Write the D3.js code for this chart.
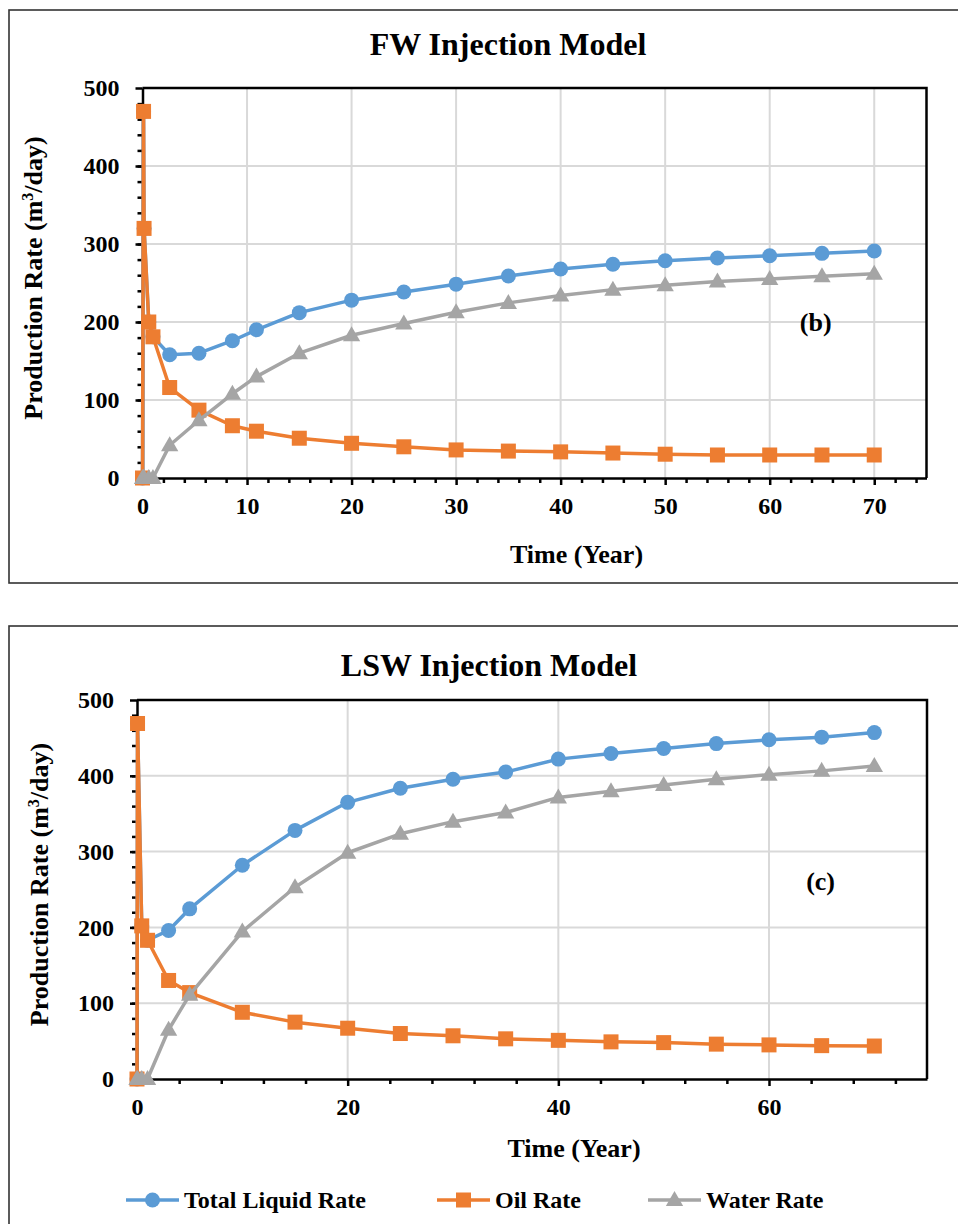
<!DOCTYPE html>
<html>
<head>
<meta charset="utf-8">
<script src="https://cdn.jsdelivr.net/npm/d3@7/dist/d3.min.js"></script>
<style>
  html, body { margin: 0; padding: 0; background: #fff; }
  svg { display: block; }
  text { font-family: "Liberation Serif", "Times New Roman", serif; font-weight: bold; fill: #000; }
</style>
</head>
<body>
<svg id="chart" width="958" height="1224"></svg>
<script>
// ---- FW injection model (panel b) ----
const fwTime  = [0, 0.1, 0.15, 0.6, 1.0, 2.6, 5.4, 8.6, 10.9, 15, 20, 25, 30, 35, 40, 45, 50, 55, 60, 65, 70];
const fwTotal = [0, 470, 320, 200, 181, 158, 160, 176, 190, 212, 228, 238.5, 248.5, 259, 268, 274, 278.5, 282, 285, 288, 291];
const fwOil   = [0, 470, 320, 200, 181, 116, 87, 67, 60, 51, 44.5, 40, 36, 34.5, 33.5, 32, 30.5, 29.5, 29.5, 29.5, 29.5];
const fwWater = [0, 0, 0, 0, 0, 42, 74, 108, 130, 160, 183, 198, 212.5, 224.5, 234, 241.5, 247, 252, 255, 258.5, 262];

// ---- LSW injection model (panel c) ----
const lswTime  = [0, 0.05, 0.45, 1.0, 3, 5, 10, 15, 20, 25, 30, 35, 40, 45, 50, 55, 60, 65, 70];
const lswTotal = [0, 469, 202, 183, 196, 224.5, 282, 328, 365, 383.5, 395.5, 405, 422, 429.5, 436, 442.5, 447.5, 451, 457];
const lswOil   = [0, 469, 202, 183, 130, 114, 88, 75, 67, 60, 57, 53, 51, 49, 48, 46, 45, 44, 43.5];
const lswWater = [0, 0, 0, 0, 65, 111, 194.5, 253, 298.5, 323.5, 339.5, 351.5, 371.5, 379.5, 388, 395.5, 401.5, 406.5, 413];

const yTicks = [0, 100, 200, 300, 400, 500];
const fwXTicks = [0, 10, 20, 30, 40, 50, 60, 70];
const lswXTicks = [0, 20, 40, 60];
const seriesNames = ["Total Liquid Rate", "Oil Rate", "Water Rate"];
const seriesColors = ["#5B9BD5", "#ED7D31", "#A5A5A5"];
const seriesShapes = ["circle", "square", "triangle"];

const svg = d3.select("#chart");

function marker(sel, shape, color) {
  if (shape === "circle") {
    sel.append("circle").attr("r", 7.5).attr("fill", color);
  } else if (shape === "square") {
    sel.append("rect").attr("x", -7.5).attr("y", -7.5).attr("width", 15).attr("height", 15).attr("fill", color);
  } else {
    sel.append("path").attr("d", d3.symbol(d3.symbolTriangle, 130)()).attr("transform", "translate(0,1)").attr("fill", color);
  }
}

function drawPanel(p) {
  const g = svg.append("g");

  // outer frame
  g.append("rect")
    .attr("x", p.box[0]).attr("y", p.box[1]).attr("width", p.box[2]).attr("height", p.box[3])
    .attr("fill", "none").attr("stroke", "#333").attr("stroke-width", 1.6);

  const x = d3.scaleLinear().domain([0, 75]).range([p.left, p.right]);
  const y = d3.scaleLinear().domain([0, 500]).range([p.bottom, p.top]);

  // gridlines
  g.append("g").selectAll("line").data(yTicks.filter(v => v > 0 && v < 500)).join("line")
    .attr("x1", p.left).attr("x2", p.right).attr("y1", d => y(d)).attr("y2", d => y(d))
    .attr("stroke", "#d9d9d9").attr("stroke-width", 2);
  g.append("g").selectAll("line").data(p.gridX).join("line")
    .attr("x1", d => x(d)).attr("x2", d => x(d)).attr("y1", p.top).attr("y2", p.bottom)
    .attr("stroke", "#d9d9d9").attr("stroke-width", 2);

  // top/right border of the plot area
  g.append("path")
    .attr("d", `M${p.left},${p.top}H${p.right}V${p.bottom}`)
    .attr("fill", "none").attr("stroke", "#000").attr("stroke-width", 2.5);

  // minor ticks
  g.append("g").attr("transform", `translate(0,${p.bottom})`)
    .call(d3.axisBottom(x).tickValues(p.minorX).tickSize(5).tickFormat(""))
    .call(a => a.select(".domain").remove())
    .call(a => a.selectAll("line").attr("stroke", "#000").attr("stroke-width", 2.5));
  g.append("g").attr("transform", `translate(${p.left},0)`)
    .call(d3.axisLeft(y).tickValues(d3.range(20, 500, 20)).tickSize(5).tickFormat(""))
    .call(a => a.select(".domain").remove())
    .call(a => a.selectAll("line").attr("stroke", "#000").attr("stroke-width", 2.5));

  // major axes
  const ax = g.append("g").attr("transform", `translate(0,${p.bottom})`)
    .call(d3.axisBottom(x).tickValues(p.xTicks).tickSize(7).tickPadding(12).tickSizeOuter(0).tickFormat(d3.format("d")));
  const ay = g.append("g").attr("transform", `translate(${p.left},0)`)
    .call(d3.axisLeft(y).tickValues(yTicks).tickSize(7).tickPadding(16).tickSizeOuter(0).tickFormat(d3.format("d")));
  [ax, ay].forEach(a => {
    a.select(".domain").attr("stroke", "#000").attr("stroke-width", 2.5);
    a.selectAll("line").attr("stroke", "#000").attr("stroke-width", 2.5);
    a.selectAll("text").style("font-family", "'Liberation Serif', 'Times New Roman', serif")
      .style("font-weight", "bold").style("font-size", "24px").attr("fill", "#000");
  });

  // series (lines first, then markers, drawn in series order)
  p.series.forEach((vals, i) => {
    const pts = p.time.map((t, k) => [t, vals[k]]);
    const sg = g.append("g");
    sg.append("path")
      .attr("d", d3.line().x(d => x(d[0])).y(d => y(d[1]))(pts))
      .attr("fill", "none").attr("stroke", seriesColors[i]).attr("stroke-width", 3.5)
      .attr("stroke-linejoin", "round");
    sg.selectAll("g.m").data(pts).join("g").attr("class", "m")
      .attr("transform", d => `translate(${x(d[0])},${y(d[1])})`)
      .each(function () { marker(d3.select(this), seriesShapes[i], seriesColors[i]); });
  });

  // titles
  g.append("text").attr("x", p.titleX).attr("y", p.titleY).attr("text-anchor", "middle")
    .style("font-size", "32px").text(p.title);
  g.append("text").attr("x", (p.left + p.right) / 2 + 42).attr("y", p.xTitleY).attr("text-anchor", "middle")
    .style("font-size", "26px").text("Time (Year)");
  const yt = g.append("text")
    .attr("transform", `translate(${p.yTitleX},${(p.top + p.bottom) / 2 - 5}) rotate(-90)`)
    .attr("text-anchor", "middle").style("font-size", "26px");
  yt.append("tspan").text("Production Rate (m");
  yt.append("tspan").attr("dy", -9).style("font-size", "16px").text("3");
  yt.append("tspan").attr("dy", 9).text("/day)");

  // panel tag
  g.append("text").attr("x", x(p.tag[1])).attr("y", y(p.tag[2])).attr("dy", "0.35em")
    .attr("text-anchor", "middle").style("font-size", "26px").text(p.tag[0]);
}

drawPanel({
  box: [9, 10, 960, 573],
  left: 142.5, right: 926.5, top: 88, bottom: 478,
  xTicks: fwXTicks, minorX: d3.range(2, 76, 2).filter(v => v % 10 !== 0), gridX: fwXTicks.filter(v => v > 0),
  time: fwTime, series: [fwTotal, fwOil, fwWater],
  title: "FW Injection Model", titleX: 508, titleY: 55,
  xTitleY: 563, yTitleX: 42,
  tag: ["(b)", 64.4, 200]
});

drawPanel({
  box: [9, 626, 960, 620],
  left: 137, right: 927, top: 700, bottom: 1079,
  xTicks: lswXTicks, minorX: d3.range(4, 76, 4).filter(v => v % 20 !== 0), gridX: lswXTicks.filter(v => v > 0),
  time: lswTime, series: [lswTotal, lswOil, lswWater],
  title: "LSW Injection Model", titleX: 489, titleY: 676,
  xTitleY: 1157, yTitleX: 48,
  tag: ["(c)", 64.9, 261]
});

// legend
const legend = svg.append("g").attr("transform", "translate(0,1200)");
const legendX = [126, 437, 648];
seriesNames.forEach((name, i) => {
  const lg = legend.append("g").attr("transform", `translate(${legendX[i]},0)`);
  lg.append("line").attr("x1", 0).attr("x2", 53).attr("stroke", seriesColors[i]).attr("stroke-width", 3.5);
  const m = lg.append("g").attr("transform", "translate(26.5,0)");
  marker(m, seriesShapes[i], seriesColors[i]);
  lg.append("text").attr("x", 58).attr("dy", "0.33em").style("font-size", "24px").text(name);
});
</script>
</body>
</html>
